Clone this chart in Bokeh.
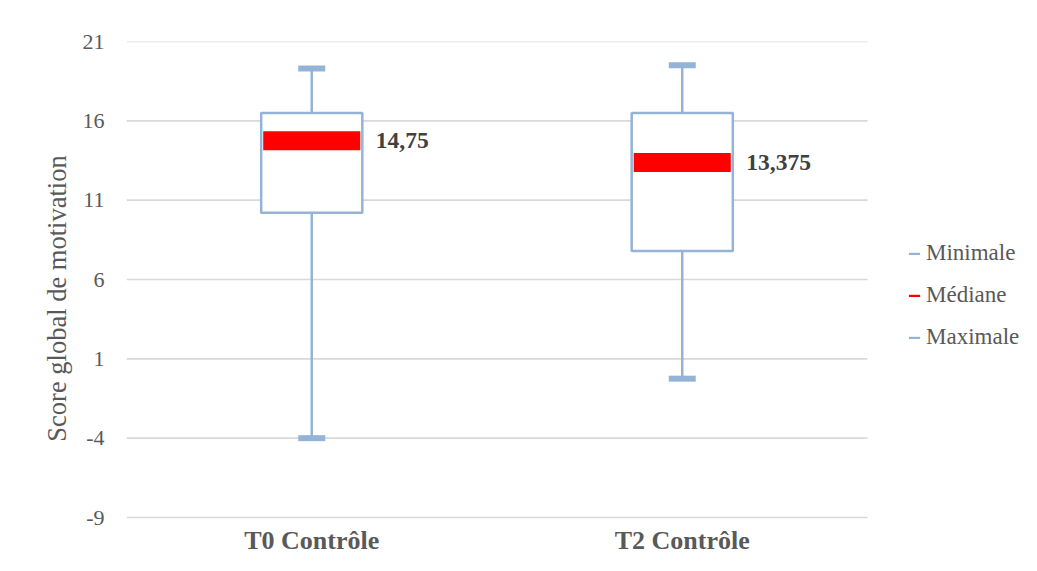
from bokeh.plotting import figure
from bokeh.models import Range1d, FixedTicker, Legend, LegendItem
from bokeh.core.properties import value
from bokeh.embed import file_html
from bokeh.resources import INLINE

# ---- data ----
categories = ["T0 Contrôle", "T2 Contrôle"]
minimum = [-4.0, -0.25]
q1 = [10.2, 7.8]
median = [14.75, 13.375]
q3 = [16.5, 16.5]
maximum = [19.3, 19.5]
median_labels = ["14,75", "13,375"]
y_ticks = [-9, -4, 1, 6, 11, 16, 21]
legend_labels = ["Minimale", "Médiane", "Maximale"]

BLUE = "#95b3d7"
RED = "#ff0000"
GREY = "#595959"
FONT = "Liberation Serif"

# category centres on a numeric axis (one unit per category)
xs = [i + 0.5 for i in range(len(categories))]
n = len(categories)

W, H = 1021, 555
LEFT, TOP = 126, 41
unit_px = (867 - LEFT) / n            # px per category
y_px = (517 - TOP) / (y_ticks[-1] - y_ticks[0])
x_end = (W - LEFT) / unit_px
y_start = y_ticks[0] - (H - 517) / y_px

p = figure(
    x_range=Range1d(0, x_end),
    y_range=Range1d(y_start, y_ticks[-1]),
    width=W, height=H,
    output_backend="svg", toolbar_location=None,
    min_border_left=LEFT, min_border_right=0,
    min_border_top=TOP, min_border_bottom=0,
)
p.outline_line_color = None
p.background_fill_color = "white"
p.border_fill_color = "white"
p.xgrid.grid_line_color = None
p.ygrid.grid_line_color = None
p.xaxis.visible = False

# y axis
p.yaxis.ticker = FixedTicker(ticks=y_ticks)
p.yaxis.major_label_overrides = {t: str(t) for t in y_ticks}
p.yaxis.axis_line_color = None
p.yaxis.major_tick_line_color = None
p.yaxis.minor_tick_line_color = None
p.yaxis.major_tick_out = 0
p.yaxis.major_tick_in = 0
p.yaxis.major_label_text_font = FONT
p.yaxis.major_label_text_color = GREY
p.yaxis.major_label_text_font_size = "22px"
p.yaxis.major_label_standoff = 22
p.yaxis.axis_label = "Score global de motivation"
p.yaxis.axis_label_text_font = FONT
p.yaxis.axis_label_text_font_size = "26.5px"
p.yaxis.axis_label_text_font_style = "normal"
p.yaxis.axis_label_text_color = GREY
p.yaxis.axis_label_standoff = 8

# horizontal gridlines over the category area only
p.segment(x0=[0] * len(y_ticks), y0=y_ticks, x1=[n] * len(y_ticks), y1=y_ticks,
          line_color="#d9d9d9", line_width=1.6)

# category labels under the bottom gridline
p.text(x=xs, y=[y_ticks[0]] * n, text=categories, y_offset=8,
       text_align="center", text_baseline="top",
       text_font=value(FONT), text_font_style="bold", text_font_size="26px",
       text_color=GREY)

# whiskers
p.segment(x0=xs, y0=q3, x1=xs, y1=maximum, line_color=BLUE, line_width=2.5)
p.segment(x0=xs, y0=minimum, x1=xs, y1=q1, line_color=BLUE, line_width=2.5)
# caps
cap_max = p.rect(x=xs, y=maximum, width=27, height=6, width_units="screen", height_units="screen",
                 fill_color=BLUE, line_color=None)
cap_min = p.rect(x=xs, y=minimum, width=27, height=6, width_units="screen", height_units="screen",
                 fill_color=BLUE, line_color=None)
# boxes
p.vbar(x=xs, width=0.273, bottom=q1, top=q3, fill_color="white",
       line_color=BLUE, line_width=2.5)
# median band
med = p.rect(x=xs, y=median, width=0.262, height=19, height_units="screen",
             fill_color=RED, line_color=None)
# median labels
p.text(x=xs, y=median, text=median_labels, x_offset=64,
       text_align="left", text_baseline="middle",
       text_font=value(FONT), text_font_style="bold", text_font_size="23.5px",
       text_color="#404040")

legend = Legend(
    items=[LegendItem(label=legend_labels[0], renderers=[cap_min]),
           LegendItem(label=legend_labels[1], renderers=[med]),
           LegendItem(label=legend_labels[2], renderers=[cap_max])],
    location=(781, 205),
    glyph_width=14, glyph_height=3, label_height=20, label_standoff=5,
    spacing=16, padding=0, margin=0,
    border_line_color=None, background_fill_alpha=0,
    label_text_font=FONT, label_text_font_size="23px", label_text_color=GREY,
)
p.add_layout(legend)

open("out.html", "w").write(file_html(p, INLINE))
